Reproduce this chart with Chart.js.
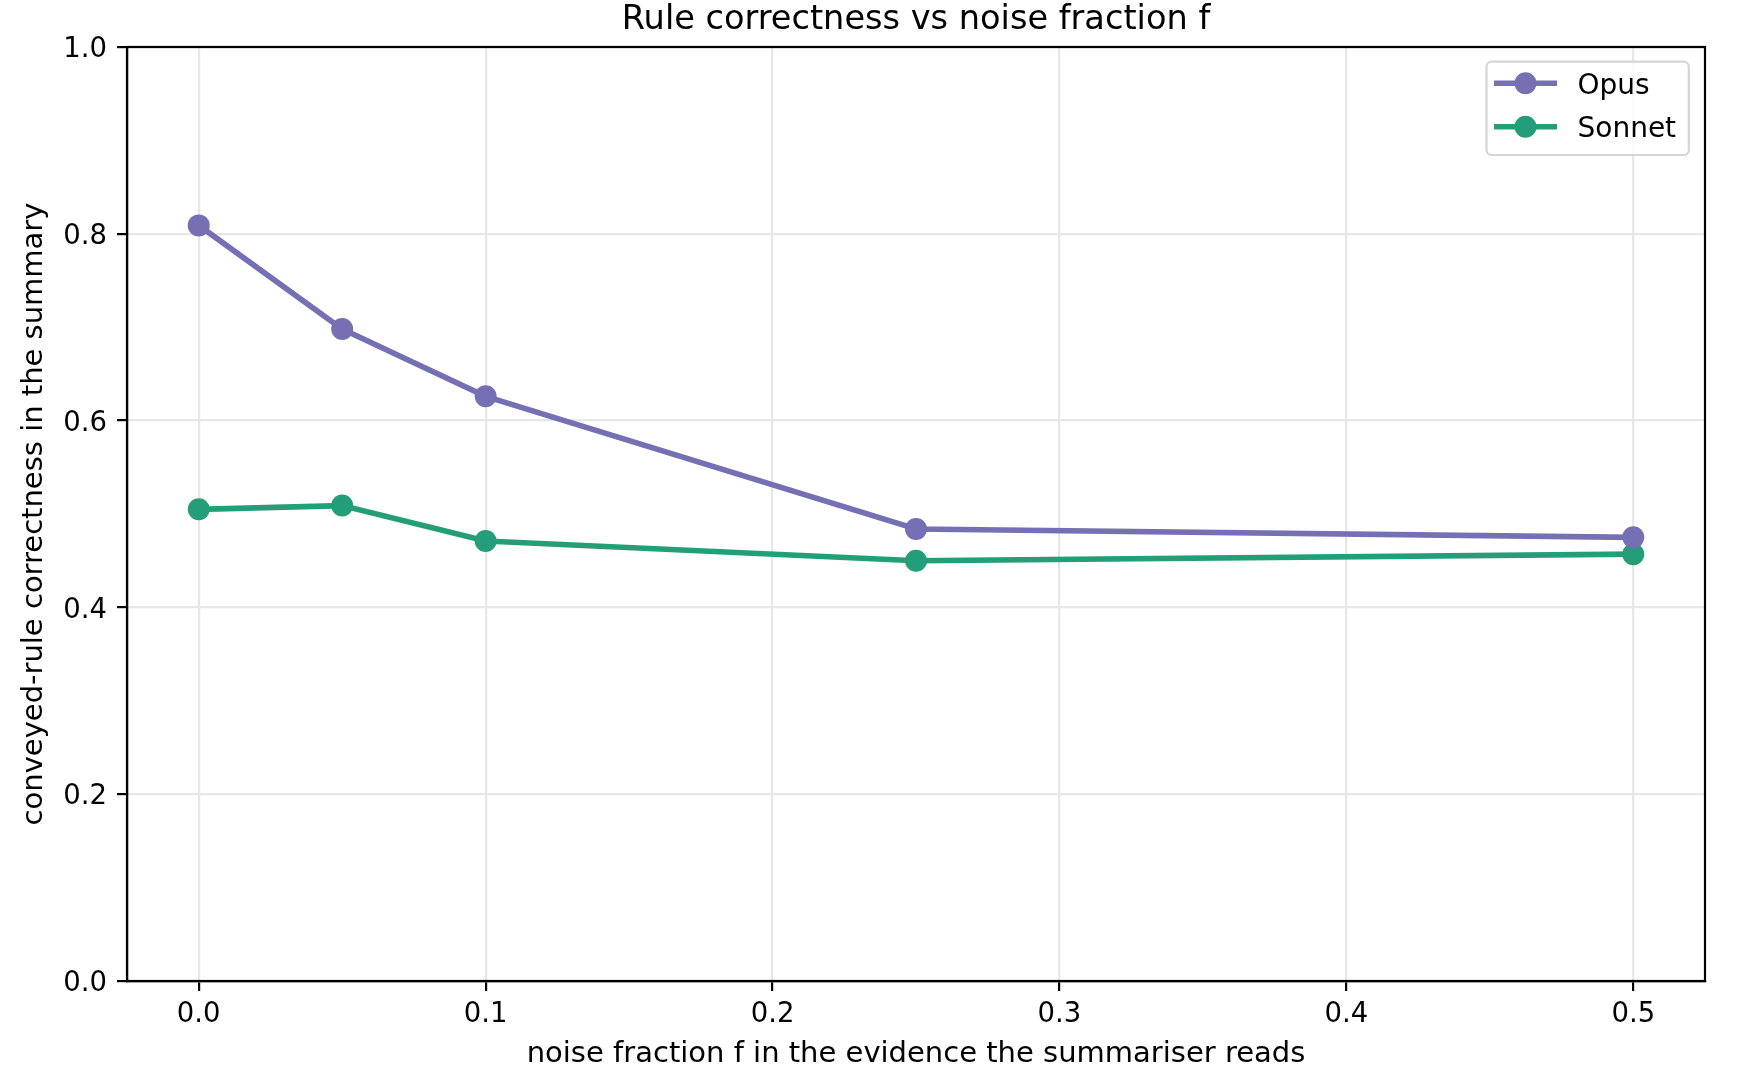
<!DOCTYPE html>
<html>
<head>
<meta charset="utf-8">
<script src="https://cdn.jsdelivr.net/npm/chart.js@4/dist/chart.umd.min.js"></script>
<style>
  html, body { margin: 0; padding: 0; background: #ffffff; }
  #wrap { width: 1738px; height: 1088px; position: relative; }
</style>
</head>
<body>
<div id="wrap"><canvas id="c"></canvas></div>
<script>
// ---- data ----
const titleText = 'Rule correctness vs noise fraction f';
const xAxisTitle = 'noise fraction f in the evidence the summariser reads';
const yAxisTitle = 'conveyed-rule correctness in the summary';
const noiseFractions = [0, 0.05, 0.1, 0.25, 0.5];
const opusValues = [0.809, 0.698, 0.626, 0.484, 0.475];
const sonnetValues = [0.505, 0.509, 0.471, 0.450, 0.457];
const seriesNames = ['Opus', 'Sonnet'];
const seriesColors = ['#7570b3', '#249e78'];
const xTickValues = [0, 0.1, 0.2, 0.3, 0.4, 0.5];
const yTickValues = [0, 0.2, 0.4, 0.6, 0.8, 1.0];

const FONT = "'DejaVu Sans', 'Liberation Sans', sans-serif";
Chart.defaults.color = '#000000';
Chart.defaults.font.family = FONT;

function toPoints(xs, ys) { return xs.map((x, i) => ({ x: x, y: ys[i] })); }

const seriesValues = [opusValues, sonnetValues];
const datasets = seriesNames.map((name, i) => ({
  label: name,
  data: toPoints(noiseFractions, seriesValues[i]),
  borderColor: seriesColors[i],
  backgroundColor: seriesColors[i],
  borderWidth: 5.6,
  pointRadius: 11,
  pointBorderWidth: 0,
  pointHoverRadius: 11,
  pointBackgroundColor: seriesColors[i],
  tension: 0,
  fill: false
}));

// Center the title over the plot area (like matplotlib's axes title)
const titleCenterPlugin = {
  id: 'titleCenter',
  afterLayout(chart) {
    const tb = chart.titleBlock;
    if (tb) {
      tb.left = chart.chartArea.left;
      tb.right = chart.chartArea.right;
      tb.width = tb.right - tb.left;
    }
  }
};

// Frame (top & right spines)
const framePlugin = {
  id: 'frame',
  afterDatasetsDraw(chart) {
    const { ctx, chartArea: a } = chart;
    ctx.save();
    ctx.strokeStyle = '#000';
    ctx.lineWidth = 2.2;
    ctx.strokeRect(a.left, a.top, a.right - a.left, a.bottom - a.top);
    ctx.restore();
  }
};

// matplotlib-like legend box in the upper right of the plot
const legendPlugin = {
  id: 'mplLegend',
  afterDraw(chart) {
    const { ctx } = chart;
    const bx = 1486.5, by = 61.7, bw = 202.3, bh = 93.3, r = 5;
    ctx.save();
    ctx.beginPath();
    ctx.roundRect(bx, by, bw, bh, r);
    ctx.fillStyle = 'rgba(255,255,255,0.8)';
    ctx.fill();
    ctx.strokeStyle = '#d5d5d5';
    ctx.lineWidth = 2.2;
    ctx.stroke();
    const rowY = [83.3, 126.7];
    chart.data.datasets.forEach((ds, i) => {
      const y = rowY[i];
      ctx.strokeStyle = ds.borderColor;
      ctx.lineWidth = 5.6;
      ctx.beginPath();
      ctx.moveTo(1494, y);
      ctx.lineTo(1557, y);
      ctx.stroke();
      ctx.fillStyle = ds.borderColor;
      ctx.beginPath();
      ctx.arc(1525.5, y, 11, 0, Math.PI * 2);
      ctx.fill();
      ctx.fillStyle = '#000';
      ctx.font = '28px ' + FONT;
      ctx.textAlign = 'left';
      ctx.textBaseline = 'alphabetic';
      ctx.fillText(ds.label, 1577.5, y + 10.3);
    });
    ctx.restore();
  }
};

new Chart(document.getElementById('c'), {
  type: 'line',
  data: { datasets: datasets },
  plugins: [titleCenterPlugin, framePlugin, legendPlugin],
  options: {
    responsive: true,
    maintainAspectRatio: false,
    animation: false,
    layout: { padding: { left: 0, right: 33, top: 0, bottom: 0 } },
    plugins: {
      legend: { display: false },
      tooltip: { enabled: false },
      title: {
        display: true,
        text: titleText,
        color: '#000',
        font: { family: FONT, size: 33.6, weight: 'normal', lineHeight: 1.11 },
        padding: { top: 2, bottom: 7.7 }
      }
    },
    scales: {
      x: {
        type: 'linear',
        min: -0.025,
        max: 0.525,
        afterFit(scale) { scale.height = 107; },
        afterBuildTicks(scale) { scale.ticks = xTickValues.map(v => ({ value: v })); },
        ticks: {
          includeBounds: false,
          autoSkip: false,
          maxRotation: 0,
          padding: 7,
          color: '#000',
          font: { family: FONT, size: 27.5 },
          callback: v => Number(v).toFixed(1)
        },
        grid: {
          color: '#e7e7e7',
          lineWidth: 2.2,
          tickColor: '#000',
          tickWidth: 2.2,
          tickLength: 10,
          drawTicks: true
        },
        border: { display: true, color: '#000', width: 2.2 },
        title: {
          display: true,
          text: xAxisTitle,
          color: '#000',
          font: { family: FONT, size: 29 },
          padding: { top: 0, bottom: 16 }
        }
      },
      y: {
        type: 'linear',
        min: 0,
        max: 1,
        afterFit(scale) { scale.width = 127; },
        afterBuildTicks(scale) { scale.ticks = yTickValues.map(v => ({ value: v })); },
        ticks: {
          includeBounds: false,
          autoSkip: false,
          padding: 10,
          labelOffset: 3,
          color: '#000',
          font: { family: FONT, size: 27.5 },
          callback: v => Number(v).toFixed(1)
        },
        grid: {
          color: '#e7e7e7',
          lineWidth: 2.2,
          tickColor: '#000',
          tickWidth: 2.2,
          tickLength: 10,
          drawTicks: true
        },
        border: { display: true, color: '#000', width: 2.2 },
        title: {
          display: true,
          text: yAxisTitle,
          color: '#000',
          font: { family: FONT, size: 29 },
          padding: { top: 17.5, bottom: 0 }
        }
      }
    }
  }
});
</script>
</body>
</html>
